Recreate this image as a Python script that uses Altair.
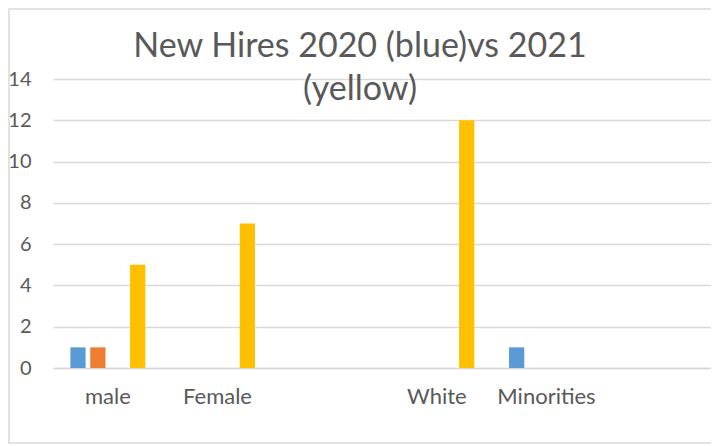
import altair as alt
import pandas as pd

categories = ["male", "Female", "blank1", "White", "Minorities", "blank2"]
series = ["2020", "Series2", "Series3", "2021"]
colors = ["#5B9BD5", "#ED7D31", "#A5A5A5", "#FFC000"]

s2020 = [1, 0, None, 0, 1, None]
s_2 = [1, 0, None, 0, 0, None]
s_3 = [0, 0, None, 0, 0, None]
s2021 = [5, 7, None, 12, 0, None]

title_lines = ["New Hires 2020 (blue)vs 2021", "(yellow)"]

rows = []
for name, vals in zip(series, [s2020, s_2, s_3, s2021]):
    for c, v in zip(categories, vals):
        if v is not None:
            rows.append({"category": c, "series": name, "value": v})
df = pd.DataFrame(rows)

FONT = "Lato"
TXT = "#595959"
GRID = "#D9D9D9"

bars = alt.Chart(df).mark_bar().encode(
    x=alt.X("category:N", sort=categories,
            scale=alt.Scale(domain=categories, paddingInner=0.274, paddingOuter=0.137),
            axis=alt.Axis(title=None, labelAngle=0, ticks=False, labelPadding=18,
                          labelFont=FONT, labelFontSize=22, labelColor=TXT,
                          domainColor=GRID, domainWidth=1.5,
                          labelExpr="indexof(datum.label, 'blank') == 0 ? '' : datum.label")),
    xOffset=alt.XOffset("series:N", sort=series,
                        scale=alt.Scale(domain=series, paddingInner=0.235, paddingOuter=0.1175)),
    y=alt.Y("value:Q", scale=alt.Scale(domain=[0, 14]),
            axis=alt.Axis(title=None, values=[0, 2, 4, 6, 8, 10, 12, 14], ticks=False,
                          domain=False, labelPadding=22, labelFont=FONT, labelFontSize=20,
                          labelColor=TXT, gridColor=GRID, gridWidth=1.5)),
    color=alt.Color("series:N", scale=alt.Scale(domain=series, range=colors), legend=None),
)

border = alt.Chart(alt.Data(values=[{}])).mark_rect(
    clip=False, fill=None, fillOpacity=0, stroke=GRID, strokeWidth=1.5
).encode(
    x=alt.value(-44), x2=alt.value(720), y=alt.value(-70), y2=alt.value(364)
)

title = alt.Chart(alt.Data(values=[{}])).mark_text(
    text=title_lines, font=FONT, fontSize=34, color=TXT, align="center",
    baseline="alphabetic", lineHeight=43, clip=False
).encode(x=alt.value(307), y=alt.value(-22))

chart = alt.layer(border, bars, title).properties(
    width=658,
    height=289,
    padding={"left": 45, "top": 71, "right": 0, "bottom": 76},
    autosize=alt.AutoSizeParams(type="none"),
).configure_view(stroke=None)

chart.save("out.html", embed_options={"renderer": "svg", "actions": False})
